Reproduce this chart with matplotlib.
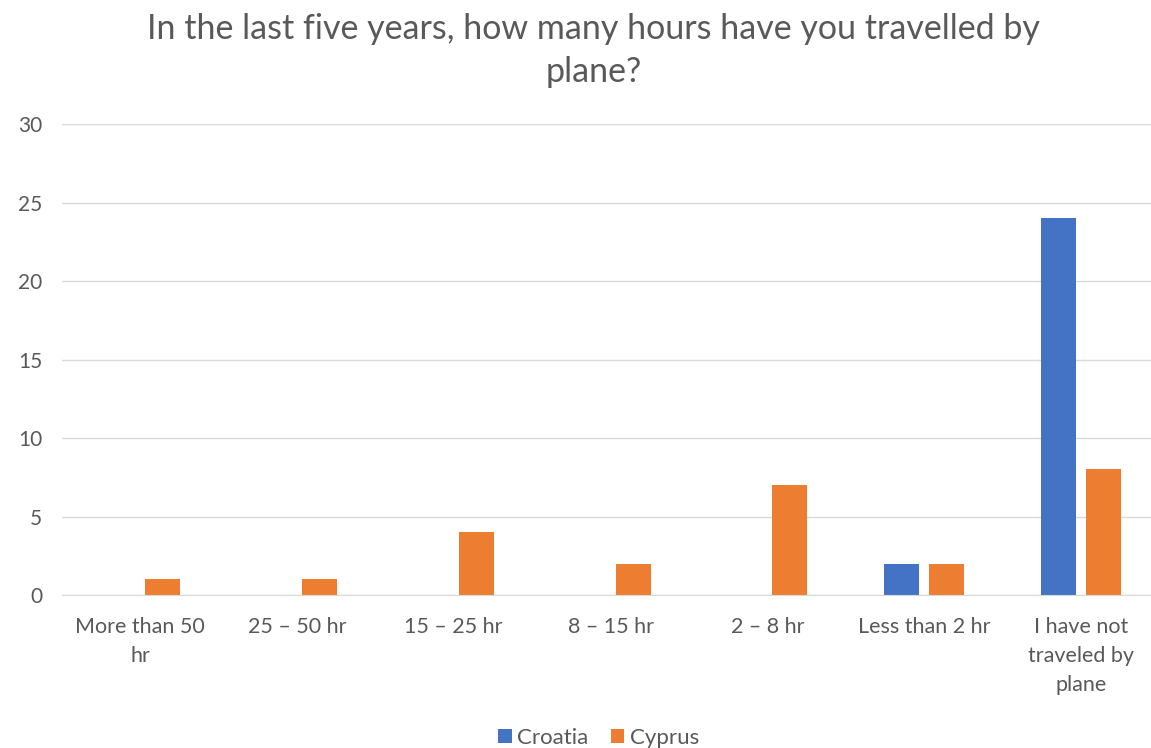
import numpy as np
from matplotlib import pyplot as plt

plt.rcParams['font.family'] = ['Lato', 'DejaVu Sans']

categories = ['More than 50\nhr', '25 – 50 hr', '15 – 25 hr', '8 – 15 hr',
              '2 – 8 hr', 'Less than 2 hr', 'I have not\ntraveled by\nplane']
croatia = [0, 0, 0, 0, 0, 2, 24]
cyprus = [1, 1, 4, 2, 7, 2, 8]

textGrey = '#595959'

fig = plt.figure(figsize=(11.51, 7.48), dpi=100)
ax = fig.add_axes([0.0535, 0.2045, 0.954, 0.6295])

x = np.arange(len(categories))
barWidth = 0.223
gap = 0.064
ax.bar(x - (barWidth + gap) / 2, croatia, barWidth, color='#4472C4', label='Croatia')
ax.bar(x + (barWidth + gap) / 2, cyprus, barWidth, color='#ED7D31', label='Cyprus')

ax.set_ylim(0, 30)
ax.set_xlim(-0.5, len(categories) - 0.5)
ax.set_yticks(range(0, 31, 5))
ax.set_xticks(x)
ax.set_xticklabels(categories, fontsize=15.5, color=textGrey, linespacing=1.55)
ax.tick_params(axis='y', labelsize=15, labelcolor=textGrey, length=0, pad=14)
ax.tick_params(axis='x', length=0, pad=16)
ax.yaxis.grid(True, color='#D9D9D9', linewidth=1)
ax.set_axisbelow(True)
for side in ['top', 'right', 'left']:
    ax.spines[side].set_visible(False)
ax.spines['bottom'].set_color('#D9D9D9')

fig.suptitle('In the last five years, how many hours have you travelled by\nplane?',
             x=0.516, y=0.983, fontsize=24.5, color=textGrey, linespacing=1.45)

fig.legend(loc='center', bbox_to_anchor=(0.52, 0.013), ncol=2, frameon=False,
           fontsize=16, labelcolor=textGrey, handlelength=0.6, handleheight=0.6,
           handletextpad=0.25, columnspacing=1.0)

fig.savefig('out.png', dpi=100)
